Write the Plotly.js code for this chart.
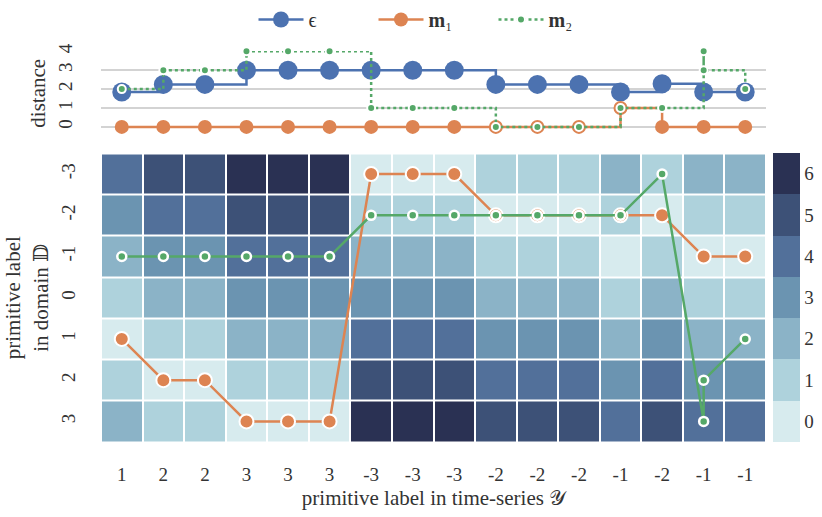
<!DOCTYPE html>
<html>
<head>
<meta charset="utf-8">
<script src="https://cdn.plot.ly/plotly-3.0.1.min.js"></script>
<style>html,body{margin:0;padding:0;background:#fff;}#chart{width:822px;height:517px;}</style>
</head>
<body>
<div id="chart"></div>
<script>
// ---- data ----
var steps = [1,2,3,4,5,6,7,8,9,10,11,12,13,14,15,16];
var seriesLabels = [1,2,2,3,3,3,-3,-3,-3,-2,-2,-2,-1,-2,-1,-1];
var domainLabels = [-3,-2,-1,0,1,2,3];
var costMatrix = [
  [4,5,5,6,6,6,0,0,0,1,1,1,2,1,2,2],
  [3,4,4,5,5,5,1,1,1,0,0,0,1,0,1,1],
  [2,3,3,4,4,4,2,2,2,1,1,1,0,1,0,0],
  [1,2,2,3,3,3,3,3,3,2,2,2,1,2,1,1],
  [0,1,1,2,2,2,4,4,4,3,3,3,2,3,2,2],
  [1,0,0,1,1,1,5,5,5,4,4,4,3,4,3,3],
  [2,1,1,0,0,0,6,6,6,5,5,5,4,5,4,4]
];
var epsDistance = [1.85,2.25,2.25,3,3,3,3,3,3,2.25,2.25,2.25,1.85,2.28,1.85,1.85];
var m1Distance  = [0,0,0,0,0,0,0,0,0,0,0,0,1,0,0,0];
var m2Steps     = [1,2,3,4,5,6,7,8,9,10,11,12,13,14,15,15,16];
var m2Distance  = [2,3,3,4,4,4,1,1,1,0,0,0,1,1,4,3,2];
var m1Path      = [1,2,2,3,3,3,-3,-3,-3,-2,-2,-2,-2,-2,-1,-1];
var m2Path      = [-1,-1,-1,-1,-1,-1,-2,-2,-2,-2,-2,-2,-2,-3,3,2,1];
var colorLevels = ['#d7ebee','#aed2dc','#8bb3c7','#6b94b1','#52709a','#3d5177','#2a3153'];
var cbTicks = [0,1,2,3,4,5,6];

// ---- styles ----
var BLUE = '#4c72b0', ORANGE = '#dd8452', GREEN = '#55a868';
var FONT = 'Liberation Serif, DejaVu Serif, serif';
var TXT = '#333333';

var cs = [];
for (var i = 0; i < colorLevels.length; i++) {
  cs.push([i/colorLevels.length, colorLevels[i]]);
  cs.push([(i+1)/colorLevels.length, colorLevels[i]]);
}

var traces = [
  {type:'scatter', x:steps, y:epsDistance, mode:'lines+markers', name:'ϵ', cliponaxis:false,
   line:{color:BLUE, width:2.5, shape:'hv'}, marker:{color:BLUE, size:19},
   xaxis:'x', yaxis:'y'},
  {type:'scatter', x:steps, y:m1Distance, mode:'lines+markers', name:'<b>m</b>₁', cliponaxis:false,
   line:{color:ORANGE, width:2.5, shape:'hv'}, marker:{color:ORANGE, size:14},
   xaxis:'x', yaxis:'y'},
  {type:'scatter', x:m2Steps, y:m2Distance, mode:'lines+markers', name:'<b>m</b>₂', cliponaxis:false,
   line:{color:GREEN, width:2.5, shape:'hv', dash:'dot'},
   marker:{color:GREEN, size:8, line:{color:'white', width:2}},
   xaxis:'x', yaxis:'y'},
  {type:'heatmap', x:steps, y:domainLabels, z:costMatrix, xgap:2, ygap:2,
   colorscale:cs, zmin:-0.5, zmax:6.5, showscale:true, hoverinfo:'skip',
   xaxis:'x2', yaxis:'y2',
   colorbar:{x:1.0105, xanchor:'left', xpad:0, y:0, yanchor:'bottom', ypad:0,
     len:0.7379, lenmode:'fraction', thickness:27, outlinewidth:0,
     tickvals:cbTicks, ticktext:cbTicks.map(String), ticks:'',
     tickfont:{family:FONT, size:19, color:TXT}}},
  {type:'scatter', x:steps, y:m1Path, mode:'lines+markers', showlegend:false,
   line:{color:ORANGE, width:2.5}, marker:{color:ORANGE, size:14, line:{color:'white', width:2}},
   xaxis:'x2', yaxis:'y2'},
  {type:'scatter', x:m2Steps, y:m2Path, mode:'lines+markers', showlegend:false,
   line:{color:GREEN, width:2.5}, marker:{color:GREEN, size:9, line:{color:'white', width:2.5}},
   xaxis:'x2', yaxis:'y2'}
];

var layout = {
  width:822, height:517,
  margin:{l:101, r:54, t:49, b:75},
  paper_bgcolor:'white', plot_bgcolor:'white',
  font:{family:FONT, size:19, color:TXT},
  showlegend:true,
  legend:{orientation:'h', x:0.5, xanchor:'center', xref:'paper',
    y:1, yref:'container', yanchor:'top', itemwidth:45, entrywidth:60, entrywidthmode:'pixels',
    font:{family:FONT, size:20, color:TXT}, bgcolor:'rgba(0,0,0,0)'},
  xaxis:{domain:[0,1], range:[0.5,16.5], showgrid:false, zeroline:false,
    showticklabels:false, ticks:'', anchor:'y'},
  yaxis:{domain:[0.7837,1], range:[-0.458,4.016], tickvals:[0,1,2,3,4], tickangle:-90,
    showgrid:true, gridcolor:'#d3d3d3', gridwidth:2, zeroline:false,
    ticks:'outside', ticklen:20, tickcolor:'rgba(0,0,0,0)',
    tickfont:{family:FONT, size:19, color:TXT},
    title:{text:'distance', standoff:4, font:{family:FONT, size:21, color:TXT}}, anchor:'x'},
  xaxis2:{domain:[0,1], range:[0.5,16.5], tickvals:steps, ticktext:seriesLabels.map(String),
    showgrid:false, zeroline:false, ticks:'outside', ticklen:15, tickcolor:'rgba(0,0,0,0)',
    tickfont:{family:FONT, size:19, color:TXT},
    title:{text:'primitive label in time-series 𝒴', standoff:6, font:{family:FONT, size:21, color:TXT}},
    anchor:'y2'},
  yaxis2:{domain:[0,0.7379], range:[3.5,-3.5], tickvals:domainLabels, ticktext:domainLabels.map(String),
    tickangle:-90, showgrid:false, zeroline:false,
    ticks:'outside', ticklen:17, tickcolor:'rgba(0,0,0,0)',
    tickfont:{family:FONT, size:19, color:TXT},
    title:{text:'primitive label<br>in domain 𝔻', standoff:4, font:{family:FONT, size:21, color:TXT}},
    anchor:'x2'}
};

Plotly.newPlot('chart', traces, layout, {displayModeBar:false, staticPlot:true});
</script>
</body>
</html>
